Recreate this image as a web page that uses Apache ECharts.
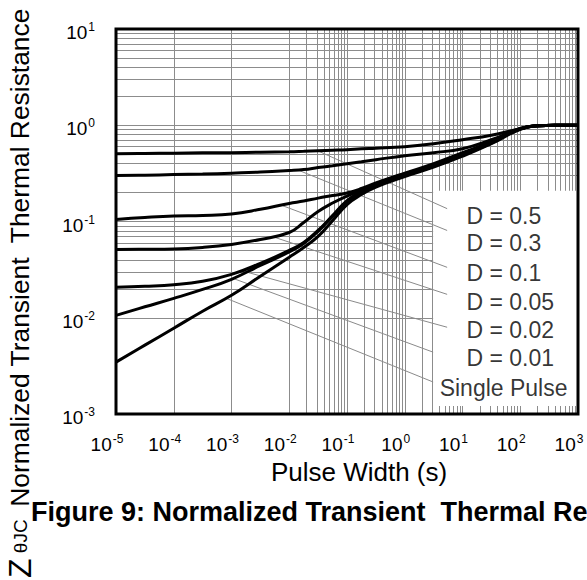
<!DOCTYPE html>
<html><head><meta charset="utf-8">
<script src="https://cdn.jsdelivr.net/npm/echarts@6/dist/echarts.min.js"></script>
<style>html,body{margin:0;padding:0;background:#fff}#c{width:587px;height:580px}</style>
</head><body><div id="c"></div>
<script>
// ---- data ----
const pulseWidth = [1e-5, 3.16e-5, 1e-4, 3.16e-4, 1e-3, 3.16e-3, 1e-2, 1.78e-2, 3.16e-2, 5.62e-2, 0.1, 0.178, 0.316, 1, 3.16, 10, 31.6, 100, 200, 400, 1000];
const zD05 = [0.507, 0.509, 0.513, 0.517, 0.519, 0.525, 0.531, 0.537, 0.544, 0.550, 0.557, 0.571, 0.578, 0.599, 0.643, 0.708, 0.788, 0.921, 0.99, 1.0, 1.0];
const zD03 = [0.300, 0.303, 0.307, 0.311, 0.318, 0.326, 0.338, 0.346, 0.363, 0.380, 0.399, 0.418, 0.439, 0.483, 0.519, 0.571, 0.707, 0.921, 0.99, 1.0, 1.0];
const zD01 = [0.105, 0.110, 0.114, 0.1155, 0.1196, 0.134, 0.154, 0.163, 0.175, 0.186, 0.198, 0.220, 0.251, 0.318, 0.399, 0.519, 0.676, 0.92, 0.99, 1.0, 1.0];
const zD005 = [0.0513, 0.0515, 0.0519, 0.0538, 0.0578, 0.0651, 0.0769, 0.0976, 0.127, 0.1555, 0.184, 0.212, 0.245, 0.311, 0.390, 0.507, 0.667, 0.92, 0.99, 1.0, 1.0];
const zD002 = [0.0207, 0.0212, 0.0220, 0.0239, 0.0282, 0.0367, 0.0501, 0.0606, 0.0807, 0.115, 0.165, 0.205, 0.239, 0.303, 0.380, 0.495, 0.659, 0.92, 0.99, 1.0, 1.0];
const zD001 = [0.0106, 0.0130, 0.0159, 0.0197, 0.0251, 0.0350, 0.0483, 0.0592, 0.0788, 0.113, 0.161, 0.200, 0.236, 0.300, 0.376, 0.489, 0.651, 0.92, 0.99, 1.0, 1.0];
const zSingle = [0.00346, 0.00519, 0.00778, 0.0117, 0.0171, 0.0270, 0.0425, 0.0537, 0.0699, 0.102, 0.150, 0.191, 0.228, 0.293, 0.367, 0.477, 0.643, 0.909, 0.99, 1.0, 1.0];
const curveNames = ['D = 0.5', 'D = 0.3', 'D = 0.1', 'D = 0.05', 'D = 0.02', 'D = 0.01', 'Single Pulse'];
const curveValues = [zD05, zD03, zD01, zD005, zD002, zD001, zSingle];
// annotation leader lines (data coordinates: [pulse width, Z])
const leaderFrom = [[0.0308, 0.544], [0.0139, 0.344], [0.00766, 0.146], [0.00536, 0.069], [0.00144, 0.031], [0.00109, 0.0255], [0.000794, 0.016]];
const leaderTo = [[5.42, 0.136], [5.42, 0.0807], [5.42, 0.0334], [5.42, 0.0175], [5.42, 0.00797], [3.1, 0.00439], [3.1, 0.00215]];
const labelAnchor = [[11.5, 0.1153], [11.5, 0.0592], [11.5, 0.0289], [11.5, 0.0145], [11.5, 0.00742], [11.5, 0.0038], [3.94, 0.00186]];
const legendBox = [[3.1, 0.209], [1000, 0.00121]];
// tick labels
const xTickExponents = [-5, -4, -3, -2, -1, 0, 1, 2, 3];
const yTickExponents = [-3, -2, -1, 0, 1];
const minorMultipliers = [2, 3, 4, 5, 6, 7, 8, 9];
const xAxisTitle = 'Pulse Width (s)';
const captionText = 'Figure 9: Normalized Transient  Thermal Resistance';

// ---- chart ----
const FONT = '"Liberation Sans", Arial, sans-serif';
const GRID_COLOR = '#8c8c8c';
const chart = echarts.init(document.getElementById('c'), null, {renderer: 'svg'});

const minorLines = [];
xTickExponents.slice(0, -1).forEach(e => minorMultipliers.forEach(m => minorLines.push({xAxis: m * Math.pow(10, e)})));
yTickExponents.slice(0, -1).forEach(e => minorMultipliers.forEach(m => minorLines.push({yAxis: m * Math.pow(10, e)})));

function expLabel(list) {
  return v => {
    const e = Math.round(Math.log10(v));
    return list.indexOf(e) >= 0 ? '{b|10}{s|' + e + '}' : '';
  };
}
const supRich = {
  b: {fontSize: 19, fontFamily: FONT, color: '#000', lineHeight: 22, verticalAlign: 'bottom'},
  s: {fontSize: 12, fontFamily: FONT, color: '#000', lineHeight: 14, verticalAlign: 'top', padding: [1, 0, 0, 1]}
};

const series = [];
series.push({
  type: 'line', data: [], silent: true, z: 1,
  markLine: {silent: true, symbol: 'none', z: 1, label: {show: false},
    lineStyle: {color: GRID_COLOR, width: 1, type: 'solid'}, emphasis: {disabled: true}, data: minorLines}
});
series.push({
  type: 'line', data: [], silent: true, z: 3,
  markArea: {silent: true, z: 3, itemStyle: {color: '#fff', opacity: 1}, label: {show: false},
    data: [[{coord: legendBox[0]}, {coord: legendBox[1]}]]}
});
series.push({
  type: 'lines', coordinateSystem: 'cartesian2d', silent: true, z: 4,
  lineStyle: {color: '#8a8a8a', width: 1, opacity: 1},
  data: leaderFrom.map((f, i) => ({coords: [f, leaderTo[i]]}))
});
curveValues.forEach((vals, i) => {
  series.push({
    name: curveNames[i], type: 'line', z: 6,
    data: pulseWidth.map((t, j) => [t, vals[j]]),
    smooth: 0.45, showSymbol: false, symbol: 'none',
    lineStyle: {color: '#000', width: 3}
  });
});
series.push({
  type: 'scatter', z: 7, silent: true, symbolSize: 1,
  itemStyle: {color: 'rgba(0,0,0,0)'},
  data: labelAnchor.map((p, i) => ({value: p, name: curveNames[i]})),
  label: {show: true, position: 'right', distance: 0, formatter: p => p.name,
    fontSize: 23, fontFamily: FONT, color: '#000'}
});

chart.setOption({
  animation: false,
  backgroundColor: '#fff',
  title: {text: captionText, left: 31, top: 498, padding: 0,
    textStyle: {fontSize: 27, fontWeight: 'bold', fontFamily: FONT, color: '#000'}},
  grid: {left: 116, right: 9, top: 29, bottom: 166, show: true, z: 20,
    borderColor: '#000', borderWidth: 3, backgroundColor: 'transparent'},
  xAxis: {
    type: 'log', logBase: 10, min: 1e-5, max: 1e3, splitNumber: 8,
    axisLine: {show: false}, axisTick: {show: false},
    splitLine: {show: true, lineStyle: {color: GRID_COLOR, width: 1}},
    axisLabel: {margin: 18, formatter: expLabel(xTickExponents), rich: supRich, padding: [0, 18, 0, 0],
      showMinLabel: true, showMaxLabel: true},
    name: xAxisTitle, nameLocation: 'middle', nameGap: 45,
    nameTextStyle: {fontSize: 26, fontFamily: FONT, color: '#000', padding: [0, 0, 0, 24]}
  },
  yAxis: {
    type: 'log', logBase: 10, min: 1e-3, max: 1e1, splitNumber: 4,
    axisLine: {show: false}, axisTick: {show: false},
    splitLine: {show: true, lineStyle: {color: GRID_COLOR, width: 1}},
    axisLabel: {margin: 21, formatter: expLabel(yTickExponents), rich: supRich, padding: [4, 0, 0, 0],
      showMinLabel: true, showMaxLabel: true}
  },
  graphic: [{
    type: 'text', x: 20, y: 578, rotation: Math.PI / 2, silent: true,
    style: {
      text: '{z|Z}{s| θJC }{n| Normalized Transient  Thermal Resistance}',
      align: 'left', verticalAlign: 'middle',
      rich: {
        z: {fontSize: 32, fontFamily: FONT, fill: '#000'},
        s: {fontSize: 19, fontFamily: FONT, fill: '#000'},
        n: {fontSize: 26.4, fontFamily: FONT, fill: '#000'}
      }
    }
  }],
  series: series
});
</script></body></html>
